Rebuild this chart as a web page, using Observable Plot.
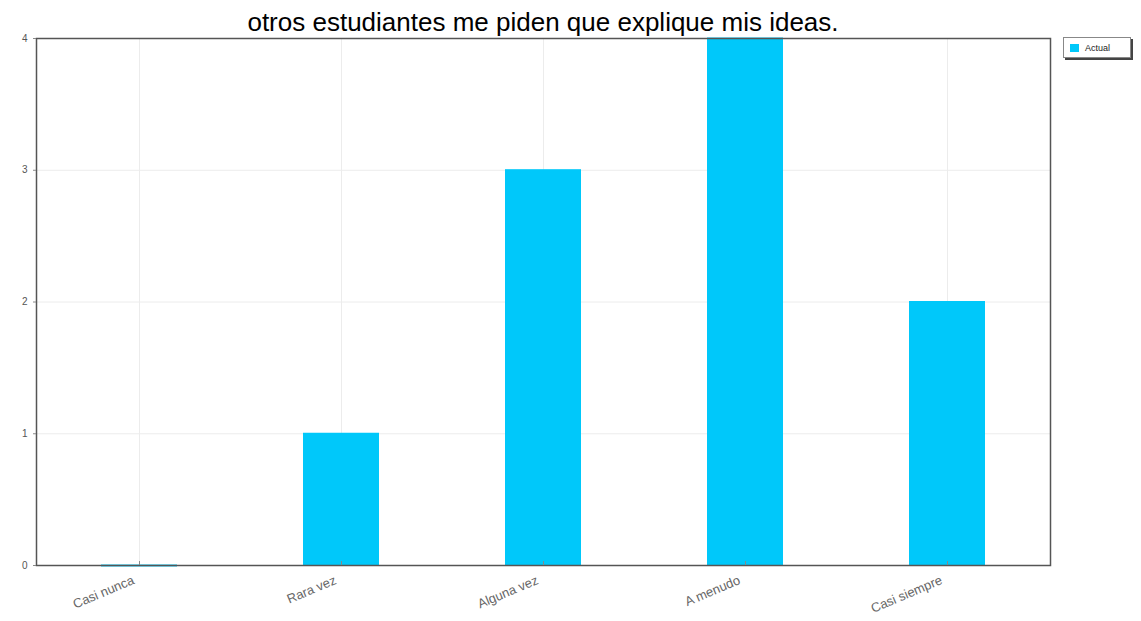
<!DOCTYPE html>
<html>
<head>
<meta charset="utf-8">
<script src="https://cdn.jsdelivr.net/npm/d3@7"></script>
<script src="https://cdn.jsdelivr.net/npm/@observablehq/plot@0.6"></script>
<style>
  html, body { margin: 0; padding: 0; background: #fff; }
  #wrap { position: relative; width: 1141px; height: 621px; overflow: hidden; }
  #title { position: absolute; left: 36px; top: 9px; width: 1014px; text-align: center;
           font-family: "Liberation Sans", Arial, sans-serif; font-size: 26px; line-height: 26px; color: #000; }
  #chart { position: absolute; left: 0; top: 34px; }
  #legend { position: absolute; left: 1063px; top: 37px; width: 68px; height: 21px; box-sizing: border-box;
            border: 1px solid #888; box-shadow: 2px 2px 0 #444; background: #fff;
            font-family: "Liberation Sans", Arial, sans-serif; font-size: 9px; color: #222;
            display: flex; align-items: center; }
  #legend .sw { width: 9px; height: 8px; margin: 0 6px 0 6px; }
</style>
</head>
<body>
<div id="wrap">
  <div id="title"></div>
  <div id="chart"></div>
  <div id="legend"></div>
</div>
<script>
const titleText = "otros estudiantes me piden que explique mis ideas.";
const categories = ["Casi nunca", "Rara vez", "Alguna vez", "A menudo", "Casi siempre"];
const seriesName = "Actual";
const values = [0, 1, 3, 4, 2];
const yTicks = [0, 1, 2, 3, 4];
const barColor = "#00c8fa";

const data = categories.map((c, i) => ({category: c, value: values[i]}));

document.getElementById("title").textContent = titleText;

const plot = Plot.plot({
  width: 1141,
  height: 587,
  marginTop: 4,
  marginLeft: 36,
  marginRight: 91,
  marginBottom: 56,
  style: {background: "transparent", overflow: "visible", fontFamily: "Liberation Sans, Arial, sans-serif"},
  x: {domain: categories, paddingInner: 0.625, paddingOuter: 0.3125, label: null},
  y: {domain: [0, 4], label: null},
  marks: [
    Plot.gridY(yTicks, {stroke: "#ececec", strokeOpacity: 1}),
    Plot.ruleX(categories, {x: d => d, stroke: "#ececec", strokeOpacity: 1}),
    Plot.barY(data, {x: "category", y: "value", fill: barColor}),
    Plot.tickY(data, {x: "category", y: "value", stroke: barColor, strokeWidth: 2}),
    Plot.frame({stroke: "#555", strokeWidth: 1.5}),
    Plot.ruleX(categories, {x: d => d, y1: 0, y2: 0.03, stroke: "#888", strokeWidth: 1}),
    Plot.axisY(yTicks, {tickSize: 3, tickPadding: 6, fontSize: 10, color: "#555", stroke: "#888", tickFormat: "d"}),
    Plot.axisX({tickSize: 0, tickPadding: 14, tickRotate: -23, fontSize: 13, color: "#666", textAnchor: "end", dx: -6})
  ]
});
document.getElementById("chart").appendChild(plot);

const lg = document.getElementById("legend");
const sw = document.createElement("span");
sw.className = "sw";
sw.style.background = barColor;
lg.appendChild(sw);
const t = document.createElement("span");
t.textContent = seriesName;
lg.appendChild(t);
</script>
</body>
</html>
